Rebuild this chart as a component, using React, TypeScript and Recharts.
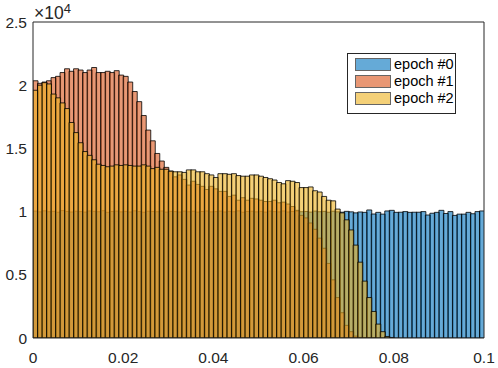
import {
  BarChart,
  Bar,
  XAxis,
  YAxis,
  ReferenceLine,
} from "recharts";

const BIN_WIDTH = 0.001;

const seriesNames = ["epoch #0", "epoch #1", "epoch #2"];
const seriesColors = ["#0072BD", "#D95319", "#EDB120"];

const epoch0 = [
  10040, 9980, 10060, 9990, 10020, 9950, 10080, 10010, 9970, 10030,
  10000, 9960, 10050, 10020, 9990, 10070, 9940, 10010, 10040, 9980,
  10020, 9970, 10060, 10000, 9950, 10030, 10010, 9990, 10050, 9960,
  10020, 10000, 9970, 10040, 9990, 10030, 9960, 10010, 10050, 9980,
  10000, 10040, 9970, 10020, 9990, 10060, 9950, 10010, 10030, 9980,
  10020, 9960, 10040, 10000, 9980, 10050, 9970, 10010, 10030, 9990,
  10010, 9960, 10040, 9990, 10020, 9950, 10030, 9980, 9950, 10020,
  9980, 9900, 9970, 9940, 10130, 9810, 9940, 9800, 10050, 10100,
  9940, 9950, 10000, 9940, 9950, 9950, 10000, 9730, 9870, 9940,
  10100, 9850, 10000, 9700, 9800, 9800, 9940, 9830, 10000, 10050,
];

const epoch1 = [
  20350, 20150, 20250, 20350, 20600, 20700, 21000, 21300, 21100, 21300,
  21200, 21000, 21200, 21400, 21000, 21000, 21100, 21000, 21150, 20800,
  20700, 20250, 19500, 18700, 17600, 16450, 15600, 14600, 14000, 13500,
  13200, 12750, 12900, 12550, 12100, 12400, 12150, 12000, 11750, 12000,
  11800, 11600, 11600, 11200, 11300, 10900, 11100, 10900, 11050, 11000,
  10900, 10800, 10800, 10900, 10700, 10750, 10600, 10400, 10100, 9700,
  9500, 9100, 8600, 7900, 7100, 5900, 4600, 3200, 2000, 1000,
  500, 150, 50, 30, 15, 8, 0, 0, 0, 0,
  0, 0, 0, 0, 0, 0, 0, 0, 0, 0,
  0, 0, 0, 0, 0, 0, 0, 0, 0, 0,
];

const epoch2 = [
  19600, 20000, 20200, 20100, 19300, 19000, 18600, 18150, 17050, 16250,
  15450, 14750, 14450, 14100, 13750, 13650, 13550, 13600, 13700, 13650,
  13700, 13650, 13600, 13600, 13700, 13600, 13400, 13500, 13350, 13350,
  13200, 13150, 13150, 13100, 13300, 13300, 13150, 13150, 13000, 12900,
  12700, 13000, 13000, 12950, 13000, 12850, 12800, 12800, 12900, 12900,
  12800, 12700, 12600, 12500, 12300, 12200, 12450, 12400, 12300, 11900,
  11900, 11950, 11650, 11550, 11200, 10900, 10850, 10200, 9900, 9350,
  8550, 7350, 6000, 4500, 3200, 2100, 1100, 500, 120, 40,
  0, 0, 0, 0, 0, 0, 0, 0, 0, 0,
  0, 0, 0, 0, 0, 0, 0, 0, 0, 0,
];

const xTicks = [0, 0.02, 0.04, 0.06, 0.08, 0.1];
const yTicks = [0, 5000, 10000, 15000, 20000, 25000];

const data = epoch0.map((v, i) => ({
  x: (i + 0.5) * BIN_WIDTH,
  e0: v,
  e1: epoch1[i],
  e2: epoch2[i],
}));

const FONT = "'Liberation Sans', Arial, Helvetica, sans-serif";
const AXIS = "#262626";

// the "x10^4" multiplier MATLAB puts above the y axis
function ExponentLabel(props: any) {
  const vb = props.viewBox || {};
  const left = (vb.x ?? 0) + (vb.width ?? 33) + 1;
  const top = vb.y ?? 22;
  return (
    <text x={left} y={top - 3} fill={AXIS} fontFamily={FONT} fontSize={17.5}>
      ×10
      <tspan dy={-6} fontSize={13}>
        4
      </tspan>
    </text>
  );
}

function LegendBox() {
  return (
    <div
      style={{
        position: "absolute",
        left: 347,
        top: 53,
        width: 107,
        height: 59,
        border: "1px solid #262626",
        background: "#fff",
        fontFamily: FONT,
        fontSize: 14.5,
        color: "#000",
      }}
    >
      {seriesNames.map((name, i) => (
        <div
          key={name}
          style={{
            position: "absolute",
            left: 7,
            top: 4 + i * 17,
            height: 13,
            display: "flex",
            alignItems: "center",
          }}
        >
          <div
            style={{
              width: 34,
              height: 11,
              background: seriesColors[i],
              opacity: 0.6,
              border: "1px solid #000",
            }}
          />
          <span style={{ marginLeft: 3, lineHeight: "13px" }}>{name}</span>
        </div>
      ))}
    </div>
  );
}

export default function App() {
  return (
    <div
      style={{
        position: "absolute",
        left: 0,
        top: 0,
        width: 498,
        height: 368,
        background: "#fff",
      }}
    >
      <BarChart
        width={498}
        height={368}
        data={data}
        margin={{ top: 22, right: 14, bottom: 0, left: 0 }}
        barCategoryGap={0}
        barGap={0}
      >
        <XAxis
          xAxisId="a"
          type="number"
          dataKey="x"
          domain={[0, 0.1]}
          ticks={xTicks}
          tickFormatter={(v) => String(v)}
          height={30}
          tickLine={false}
          tickSize={0}
          tickMargin={14}
          axisLine={{ stroke: AXIS }}
          tick={{ fontSize: 15.5, fill: AXIS, fontFamily: FONT }}
          allowDataOverflow
        />
        <XAxis xAxisId="b" type="number" dataKey="x" domain={[0, 0.1]} hide allowDataOverflow />
        <XAxis xAxisId="c" type="number" dataKey="x" domain={[0, 0.1]} hide allowDataOverflow />
        <YAxis
          type="number"
          domain={[0, 25000]}
          ticks={yTicks}
          tickFormatter={(v) => String(v / 10000)}
          width={33}
          tickLine={false}
          tickSize={0}
          tickMargin={6}
          axisLine={{ stroke: AXIS }}
          tick={{ fontSize: 15.5, fill: AXIS, fontFamily: FONT }}
          label={<ExponentLabel />}
          allowDataOverflow
        />
        <Bar
          xAxisId="a"
          dataKey="e0"
          name={seriesNames[0]}
          fill={seriesColors[0]}
          fillOpacity={0.6}
          stroke="#000"
          strokeWidth={0.8}
          isAnimationActive={false}
        />
        <Bar
          xAxisId="b"
          dataKey="e1"
          name={seriesNames[1]}
          fill={seriesColors[1]}
          fillOpacity={0.6}
          stroke="#000"
          strokeWidth={0.8}
          isAnimationActive={false}
        />
        <Bar
          xAxisId="c"
          dataKey="e2"
          name={seriesNames[2]}
          fill={seriesColors[2]}
          fillOpacity={0.6}
          stroke="#000"
          strokeWidth={0.8}
          isAnimationActive={false}
        />
        <ReferenceLine xAxisId="a" y={25000} stroke={AXIS} ifOverflow="extendDomain" />
        <ReferenceLine xAxisId="a" x={0.1} stroke={AXIS} ifOverflow="extendDomain" />
      </BarChart>
      <LegendBox />
    </div>
  );
}
